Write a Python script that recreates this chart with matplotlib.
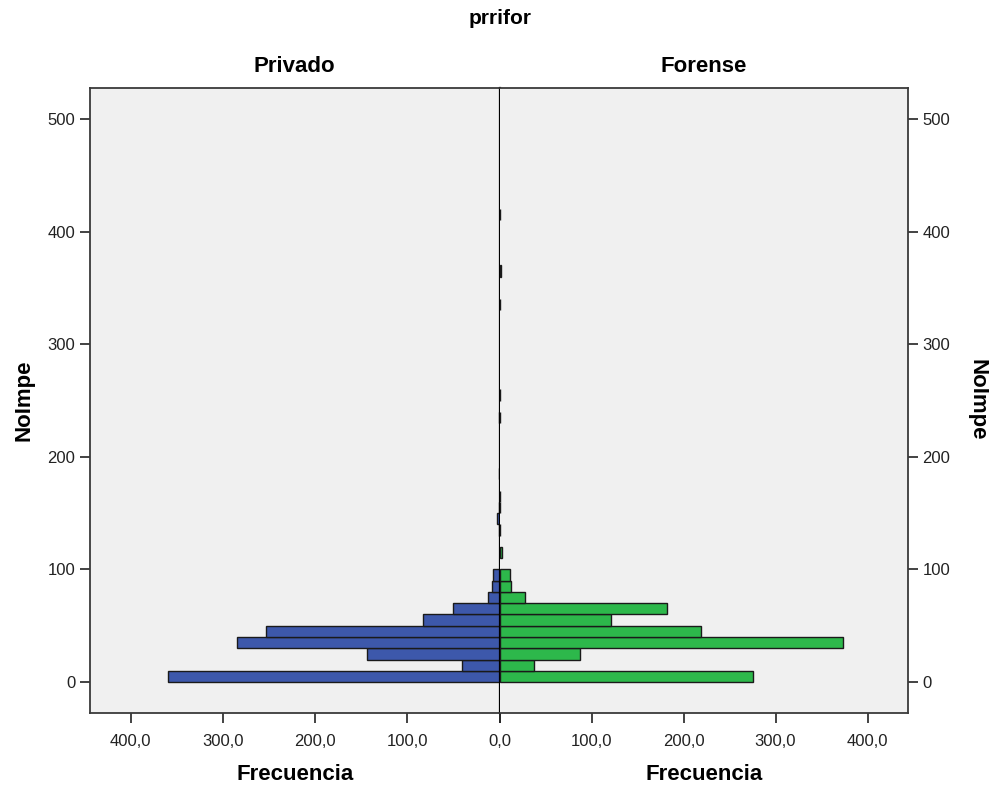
import matplotlib
matplotlib.use("Agg")
import matplotlib.pyplot as plt
import numpy as np

plt.rcParams['font.family'] = ['Liberation Sans', 'DejaVu Sans']

# Bin lower edges of NoImpe (width 10)
bin_lo = list(range(0, 420, 10))
privado = [359, 41, 144, 285, 253, 83, 50, 13, 8, 7,
           0, 0, 0, 1, 3, 1, 0, 0, 1, 0,
           0, 0, 0, 1, 0, 0, 0, 0, 0, 0,
           0, 0, 0, 0, 0, 0, 0, 0, 0, 0,
           0, 0]
forense = [275, 38, 88, 373, 219, 121, 182, 28, 13, 11,
           0, 3, 0, 1, 0, 1, 1, 0, 0, 0,
           0, 0, 0, 1, 0, 1, 0, 0, 0, 0,
           0, 0, 0, 1, 0, 0, 2, 0, 0, 0,
           0, 1]
x_ticks = [0, 100, 200, 300, 400]
y_ticks = [0, 100, 200, 300, 400, 500]
panel_titles = ["Privado", "Forense"]

W, H = 992, 787
fig = plt.figure(figsize=(W / 100, H / 100), dpi=100)

def fx(px):
    return px / W

def fy(py):
    return 1 - py / H

left_x, mid_x, right_x = 90, 499.5, 908
top_y, bot_y = 88, 713
axL = fig.add_axes([fx(left_x), fy(bot_y), fx(mid_x - left_x), (bot_y - top_y) / H])
axR = fig.add_axes([fx(mid_x), fy(bot_y), fx(right_x - mid_x), (bot_y - top_y) / H])

blue = "#3d58ab"
green = "#2db84b"
bg = "#f0f0f0"
frame = "#3a3a3a"

ylim = (-27.5, 527.5)
for ax in (axL, axR):
    ax.set_facecolor(bg)
    ax.set_ylim(*ylim)
    ax.set_xlim(0, 444)
    for s in ax.spines.values():
        s.set_color(frame)
        s.set_linewidth(1.3)
    ax.tick_params(axis='both', labelsize=12, colors="#222222", length=7, width=1.2)

nz_p = [(b, v) for b, v in zip(bin_lo, privado) if v > 0]
nz_f = [(b, v) for b, v in zip(bin_lo, forense) if v > 0]
axL.barh([b for b, v in nz_p], [v for b, v in nz_p], height=10, align='edge',
         color=blue, edgecolor="#1a1a1a", linewidth=1.0, zorder=3)
axR.barh([b for b, v in nz_f], [v for b, v in nz_f], height=10, align='edge',
         color=green, edgecolor="#1a1a1a", linewidth=1.0, zorder=3)

axL.invert_xaxis()
axL.set_xticks(x_ticks)
axL.set_xticklabels([f"{t},0" for t in x_ticks])
axR.set_xticks(x_ticks)
axR.set_xticklabels([""] + [f"{t},0" for t in x_ticks[1:]])

axL.set_yticks(y_ticks)
axL.set_yticklabels([str(t) for t in y_ticks])
axR.set_yticks(y_ticks)
axR.yaxis.tick_right()
axR.set_yticklabels([str(t) for t in y_ticks])

axL.spines['right'].set_color('black')
axL.spines['right'].set_linewidth(1.6)
axL.spines['right'].set_zorder(5)
axR.spines['left'].set_visible(False)

axL.tick_params(axis='x', pad=8)
axR.tick_params(axis='x', pad=8)

# Titles and labels
fig.text(fx(500), fy(18), "prrifor", ha='center', va='center', fontsize=15, fontweight='bold')
fig.text(fx((left_x + mid_x) / 2), fy(67), panel_titles[0], ha='center', va='center', fontsize=16, fontweight='bold')
fig.text(fx((mid_x + right_x) / 2), fy(67), panel_titles[1], ha='center', va='center', fontsize=16, fontweight='bold')
fig.text(fx((left_x + mid_x) / 2), fy(774), "Frecuencia", ha='center', va='center', fontsize=16, fontweight='bold')
fig.text(fx((mid_x + right_x) / 2), fy(774), "Frecuencia", ha='center', va='center', fontsize=16, fontweight='bold')
fig.text(fx(24), fy(400), "NoImpe", ha='center', va='center', rotation=90, fontsize=16, fontweight='bold')
fig.text(fx(977), fy(400), "NoImpe", ha='center', va='center', rotation=-90, fontsize=16, fontweight='bold')

fig.savefig("out.png", dpi=100, facecolor="white")
